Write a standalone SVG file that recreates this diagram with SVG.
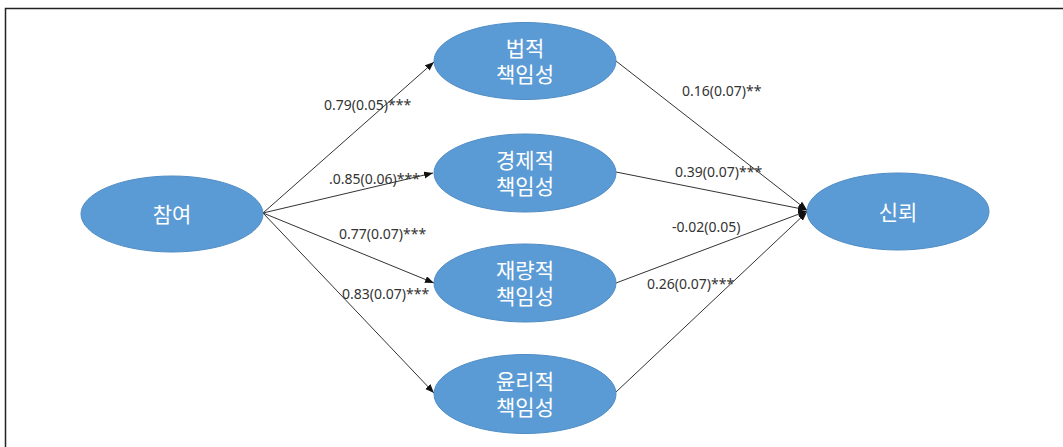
<svg xmlns="http://www.w3.org/2000/svg" width="1063" height="447" viewBox="0 0 1063 447">
  <style>
    .node ellipse { fill: #5b9bd5; stroke: #4f8cc4; stroke-width: 1; }
    .node text { fill: #ffffff; font-family: "Noto Sans CJK KR", "Noto Sans", sans-serif; font-size: 21px; text-anchor: middle; }
    .edge { stroke: #333333; stroke-width: 1; fill: none; marker-end: url(#arr); }
    .lbl { fill: #333333; font-family: "Noto Sans", "Liberation Sans", sans-serif; font-size: 14px; }
  </style>
  <defs>
    <marker id="arr" markerUnits="userSpaceOnUse" markerWidth="10" markerHeight="8" refX="9" refY="3.5" orient="auto">
      <path d="M0,0 L9,3.5 L0,7 z" fill="#111111"/>
    </marker>
  </defs>
  <rect width="1063" height="447" fill="#ffffff"/>
  <path d="M5.5 447 V8.5 H1063" fill="none" stroke="#222222" stroke-width="1.5"/>

  <g id="connectors">
    <line class="edge" x1="263" y1="213" x2="434" y2="62"/>
    <line class="edge" x1="263" y1="213" x2="433" y2="173"/>
    <line class="edge" x1="263" y1="213" x2="434" y2="283"/>
    <line class="edge" x1="263" y1="213" x2="434" y2="393"/>
    <line class="edge" x1="616" y1="61" x2="807" y2="210"/>
    <line class="edge" x1="616" y1="172" x2="807" y2="210"/>
    <line class="edge" x1="616" y1="283" x2="807" y2="211"/>
    <line class="edge" x1="616" y1="392" x2="807" y2="212"/>
  </g>

  <g id="labels">
    <text class="lbl" x="324" y="110">0.79(0.05)***</text>
    <text class="lbl" x="329" y="183.5">.0.85(0.06)***</text>
    <text class="lbl" x="339" y="239">0.77(0.07)***</text>
    <text class="lbl" x="342" y="299">0.83(0.07)***</text>
    <text class="lbl" x="682" y="96">0.16(0.07)**</text>
    <text class="lbl" x="675" y="177">0.39(0.07)***</text>
    <text class="lbl" x="672" y="232">-0.02(0.05)</text>
    <text class="lbl" x="647" y="289">0.26(0.07)***</text>
  </g>

  <g id="node-participation" class="node">
    <ellipse cx="172" cy="214" rx="91" ry="38"/>
    <text x="172" y="222">참여</text>
  </g>
  <g id="node-legal" class="node">
    <ellipse cx="525" cy="61" rx="91" ry="38.5"/>
    <text x="525" y="56"><tspan x="525">법적</tspan><tspan x="525" dy="26">책임성</tspan></text>
  </g>
  <g id="node-economic" class="node">
    <ellipse cx="525" cy="173" rx="91" ry="39"/>
    <text x="525" y="168"><tspan x="525">경제적</tspan><tspan x="525" dy="26">책임성</tspan></text>
  </g>
  <g id="node-discretionary" class="node">
    <ellipse cx="525" cy="283" rx="91" ry="39"/>
    <text x="525" y="278"><tspan x="525">재량적</tspan><tspan x="525" dy="26">책임성</tspan></text>
  </g>
  <g id="node-ethical" class="node">
    <ellipse cx="525" cy="394" rx="91" ry="39.5"/>
    <text x="525" y="389"><tspan x="525">윤리적</tspan><tspan x="525" dy="26">책임성</tspan></text>
  </g>
  <g id="node-trust" class="node">
    <ellipse cx="898" cy="211.5" rx="91" ry="38.5"/>
    <text x="898" y="220">신뢰</text>
  </g>
</svg>
